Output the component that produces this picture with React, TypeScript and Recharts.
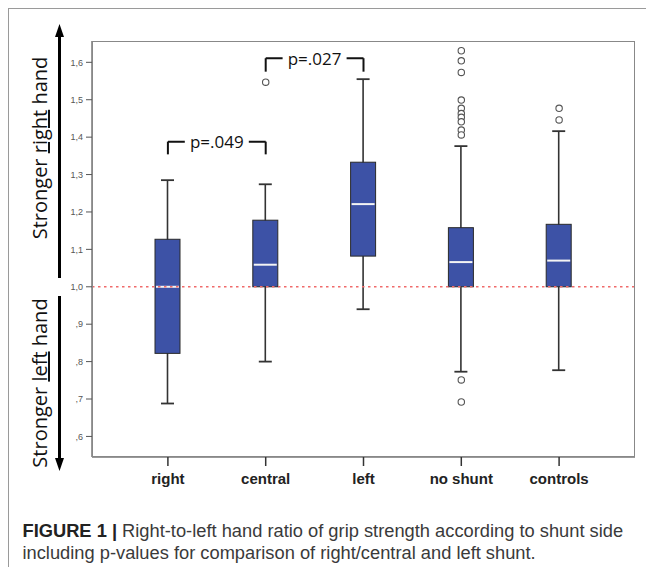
import React from "react";
import {
  Bar,
  ComposedChart,
  ReferenceLine,
  Scatter,
  XAxis,
  YAxis,
} from "recharts";

// group names on the x axis
const categories = ["right", "central", "left", "no shunt", "controls"];

// box plot summary per group (right-to-left grip strength ratio)
const whiskerLow = [0.688, 0.8, 0.94, 0.773, 0.777];
const quartile1 = [0.822, 1.0, 1.082, 1.0, 1.0];
const medians = [1.0, 1.059, 1.221, 1.066, 1.07];
const quartile3 = [1.127, 1.178, 1.333, 1.158, 1.167];
const whiskerHigh = [1.285, 1.274, 1.555, 1.376, 1.416];

// outliers (group, value)
const outlierGroups = [
  "central",
  "no shunt", "no shunt", "no shunt", "no shunt", "no shunt", "no shunt",
  "no shunt", "no shunt", "no shunt", "no shunt", "no shunt", "no shunt",
  "controls", "controls",
];
const outlierValues = [
  1.547,
  1.631, 1.604, 1.573, 1.499, 1.477, 1.463, 1.453, 1.441, 1.419, 1.406, 0.751, 0.692,
  1.477, 1.446,
];

const yTicks = [0.6, 0.7, 0.8, 0.9, 1.0, 1.1, 1.2, 1.3, 1.4, 1.5, 1.6];

// significance brackets
const bracketFrom = ["right", "central"];
const bracketTo = ["central", "left"];
const bracketTop = [1.388, 1.611];
const bracketFoot = [1.354, 1.575];
const bracketText = ["p=.049", "p=.027"];

const boxData = categories.map((name, i) => ({
  name,
  range: [whiskerLow[i], whiskerHigh[i]],
  low: whiskerLow[i],
  q1: quartile1[i],
  median: medians[i],
  q3: quartile3[i],
  high: whiskerHigh[i],
}));

const outlierData = outlierValues.map((v, i) => ({ name: outlierGroups[i], v }));

const BOX_FILL = "#3d52a6";

function BoxShape(props: any) {
  const { x, y, width, height, payload } = props;
  if (payload == null || height == null) return null;
  const top = Math.min(y, y + height);
  const h = Math.abs(height);
  const k = h / (payload.high - payload.low);
  const py = (v: number) => top + (payload.high - v) * k;
  const cx = x + width / 2;
  const cap = 6.5;
  return (
    <g>
      <line x1={cx} x2={cx} y1={py(payload.high)} y2={py(payload.low)} stroke="#333" strokeWidth={1.6} />
      <line x1={cx - cap} x2={cx + cap} y1={py(payload.high)} y2={py(payload.high)} stroke="#333" strokeWidth={1.8} />
      <line x1={cx - cap} x2={cx + cap} y1={py(payload.low)} y2={py(payload.low)} stroke="#333" strokeWidth={1.8} />
      <rect
        x={x}
        y={py(payload.q3)}
        width={width}
        height={py(payload.q1) - py(payload.q3)}
        fill={BOX_FILL}
        stroke="#2a2a2a"
        strokeWidth={1}
      />
      <line x1={x + 1} x2={x + width - 1} y1={py(payload.median)} y2={py(payload.median)} stroke="#f4f4f4" strokeWidth={2} />
    </g>
  );
}

function OutlierDot(props: any) {
  const { cx, cy } = props;
  if (cx == null || cy == null) return null;
  return <circle cx={cx} cy={cy} r={3.2} fill="#fff" stroke="#555" strokeWidth={1.1} />;
}

function BracketLabel(props: any) {
  const { viewBox, value } = props;
  if (!viewBox) return null;
  const cx = viewBox.x + (viewBox.width || 0) / 2;
  const cy = viewBox.y + (viewBox.height || 0) / 2;
  return (
    <g>
      <rect x={cx - 32} y={cy - 10} width={64} height={20} fill="#fff" />
      <text
        x={cx}
        y={cy}
        textAnchor="middle"
        dominantBaseline="central"
        fontFamily="'Open Sans', sans-serif"
        fontSize={17}
        fill="#111"
      >
        {value}
      </text>
    </g>
  );
}

const formatTick = (v: number) =>
  v < 1 ? "," + Math.round(v * 10) : v.toFixed(1).replace(".", ",");

export default function App() {
  return (
    <div style={{ position: "relative", width: 646, height: 559 }}>
      <style>{`body{overflow:hidden}`}</style>
      <div
        style={{
          position: "absolute",
          left: 0,
          top: 0,
          width: 646,
          height: 567,
          borderTop: "1px solid #9a9a9a",
          borderLeft: "1px solid #9a9a9a",
          boxSizing: "border-box",
        }}
      />
      <div style={{ position: "absolute", left: 0, top: 0 }}>
        <ComposedChart
          width={646}
          height={482}
          data={boxData}
          margin={{ top: 33, right: 19, bottom: 3, left: 44 }}
        >
          <XAxis
            dataKey="name"
            type="category"
            allowDuplicatedCategory={false}
            padding={{ left: 27, right: 27 }}
            tickSize={9}
            tickMargin={7}
            axisLine={{ stroke: "#777", strokeWidth: 1.5 }}
            tickLine={{ stroke: "#333", strokeWidth: 1.5 }}
            tick={{ fontSize: 15, fontWeight: "bold", fill: "#222", fontFamily: "'Liberation Sans', Arial, sans-serif" }}
            interval={0}
            height={30}
          />
          <YAxis
            type="number"
            domain={[0.545, 1.657]}
            ticks={yTicks}
            tickFormatter={formatTick}
            width={40}
            tickSize={6}
            tickMargin={3}
            axisLine={{ stroke: "#777", strokeWidth: 1.5 }}
            tickLine={{ stroke: "#555" }}
            tick={{ fontSize: 9, fill: "#555", fontFamily: "'Liberation Sans', Arial, sans-serif" }}
            allowDataOverflow
          />
          <ReferenceLine y={1} stroke="#f06a6a" strokeWidth={1.5} strokeDasharray="2.5 3.5" />
          <Bar dataKey="range" barSize={25} shape={<BoxShape />} isAnimationActive={false} />
          <Scatter data={outlierData} dataKey="v" shape={<OutlierDot />} isAnimationActive={false} />
          {bracketText.map((t, i) => (
            <React.Fragment key={t}>
              <ReferenceLine
                segment={[
                  { x: bracketFrom[i], y: bracketTop[i] },
                  { x: bracketTo[i], y: bracketTop[i] },
                ]}
                stroke="#111"
                strokeWidth={2}
                label={<BracketLabel value={t} />}
              />
              <ReferenceLine
                segment={[
                  { x: bracketFrom[i], y: bracketTop[i] },
                  { x: bracketFrom[i], y: bracketFoot[i] },
                ]}
                stroke="#111"
                strokeWidth={2}
              />
              <ReferenceLine
                segment={[
                  { x: bracketTo[i], y: bracketTop[i] },
                  { x: bracketTo[i], y: bracketFoot[i] },
                ]}
                stroke="#111"
                strokeWidth={2}
              />
            </React.Fragment>
          ))}
        </ComposedChart>
      </div>
      {/* plot frame */}
      <div
        style={{
          position: "absolute",
          left: 84,
          top: 33,
          width: 543,
          height: 416,
          border: "1px solid #888",
          boxSizing: "border-box",
          pointerEvents: "none",
        }}
      />
      {/* side annotations */}
      <svg width={80} height={480} style={{ position: "absolute", left: 0, top: 0 }}>
        <line x1={51.5} x2={51.5} y1={270} y2={24} stroke="#000" strokeWidth={3} />
        <polygon points="51.5,16 47,29 56,29" fill="#000" />
        <line x1={51.5} x2={51.5} y1={288} y2={452} stroke="#000" strokeWidth={3} />
        <polygon points="51.5,463 47,450 56,450" fill="#000" />
        <text
          transform="translate(39,140) rotate(-90)"
          textAnchor="middle"
          fontFamily="'Open Sans', sans-serif"
          fontSize={20}
          fill="#111"
        >
          Stronger <tspan style={{ textDecoration: "underline" }}>right</tspan> hand
        </text>
        <text
          transform="translate(39,375) rotate(-90)"
          textAnchor="middle"
          fontFamily="'Open Sans', sans-serif"
          fontSize={20}
          fill="#111"
        >
          Stronger <tspan style={{ textDecoration: "underline" }}>left</tspan> hand
        </text>
      </svg>
      <div
        style={{
          position: "absolute",
          left: 14.5,
          top: 512,
          fontFamily: "'Liberation Sans', Arial, sans-serif",
          fontSize: 18.3,
          lineHeight: "21.5px",
          color: "#3a3a3a",
          whiteSpace: "nowrap",
        }}
      >
        <span style={{ fontWeight: "bold", color: "#222" }}>FIGURE 1 |</span> Right-to-left hand ratio of grip
        strength according to shunt side
        <br />
        including p-values for comparison of right/central and left shunt.
      </div>
    </div>
  );
}
